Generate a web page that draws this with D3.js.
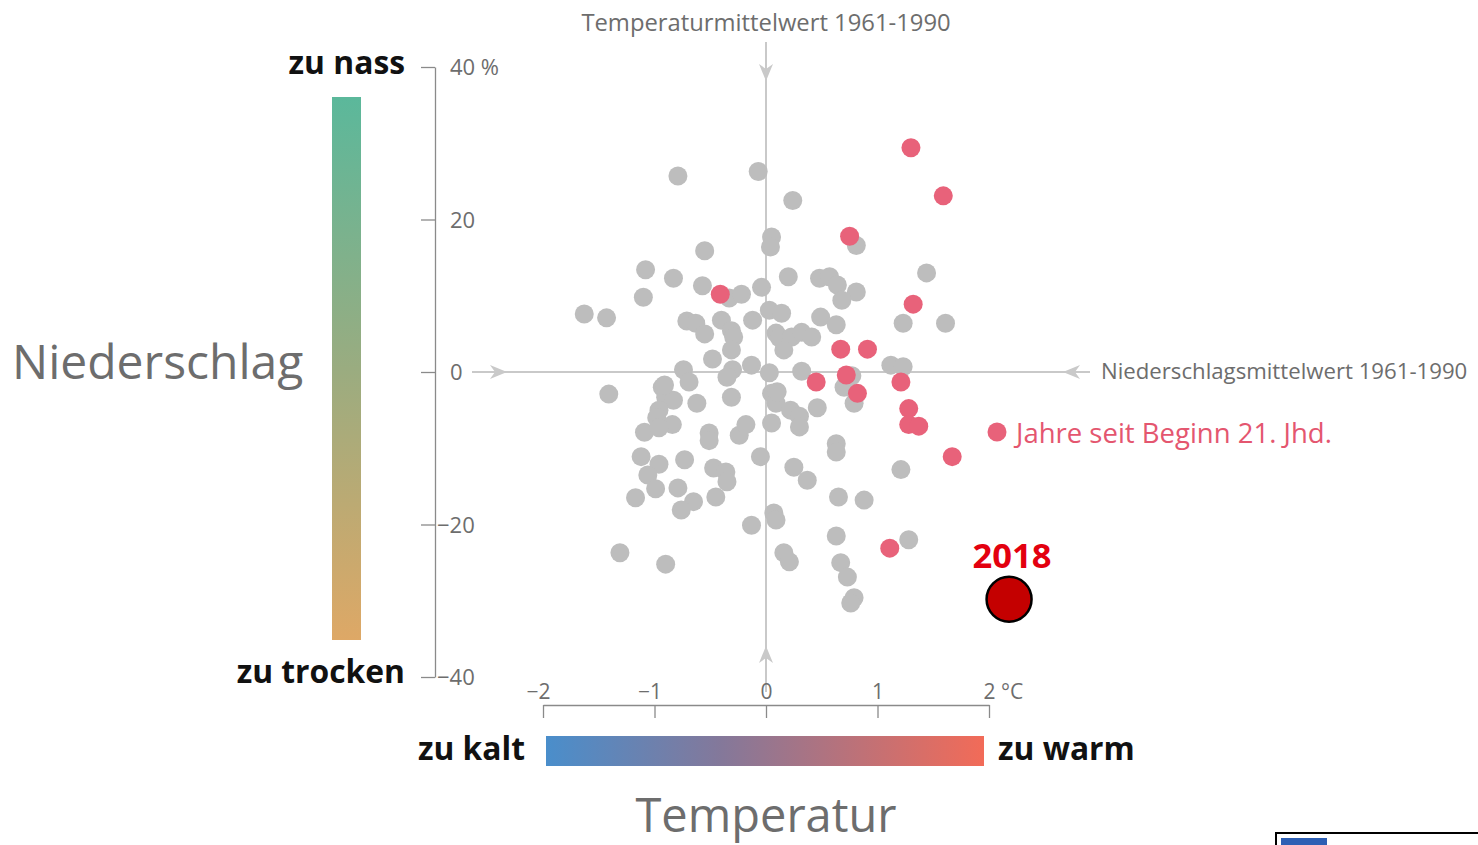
<!DOCTYPE html>
<meta charset='utf-8'>
<title>Niederschlag und Temperatur</title>
<style>
body {
  margin: 0;
  background-color: #fff;
}
svg text {
  font-family: "Open Sans", "Noto Sans", sans-serif;
}
</style>
<svg width="1478" height="845"></svg>
<script src="https://d3js.org/d3.v7.min.js"></script>
<script>

// Abweichungen vom Mittel 1961-1990: [Temperatur °C, Niederschlag %]
var grayYears = [
  [-0.79, 25.7], [-0.07, 26.3], [0.24, 22.5], [-0.55, 15.9], [0.05, 17.7], [0.04, 16.4],
  [0.81, 16.6], [-1.08, 13.4], [-0.83, 12.3], [-0.57, 11.3], [-1.10, 9.8], [-0.33, 9.7],
  [-0.22, 10.2], [-0.04, 11.1], [0.20, 12.5], [0.48, 12.3], [0.57, 12.5], [0.64, 11.4],
  [0.81, 10.5], [0.68, 9.4], [1.44, 13.0], [1.23, 6.4], [1.61, 6.4], [-1.63, 7.6],
  [-1.43, 7.1], [-0.71, 6.7], [-0.63, 6.4], [-0.55, 5.0], [-0.40, 6.8], [-0.31, 5.4],
  [-0.29, 4.6], [-0.12, 6.8], [0.03, 8.1], [0.14, 7.7], [0.09, 5.1], [0.12, 4.5],
  [0.23, 4.6], [0.32, 5.2], [0.41, 4.6], [0.49, 7.2], [0.63, 6.2], [0.16, 2.9],
  [-0.31, 2.9], [-0.48, 1.7], [-0.13, 0.9], [-0.74, 0.3], [-0.30, 0.3], [0.03, -0.1],
  [0.32, 0.1], [1.12, 0.9], [1.23, 0.7], [0.77, -0.5], [-0.69, -1.3], [-1.41, -2.9],
  [-0.93, -2.0], [-0.90, -3.3], [-0.83, -3.7], [-0.96, -5.0], [-0.98, -6.0], [-0.84, -6.9],
  [-1.09, -7.9], [-0.96, -7.3], [-0.62, -4.1], [-0.31, -3.3], [-0.35, -0.7], [-0.51, -8.0],
  [-0.51, -9.0], [-0.24, -8.3], [-0.18, -6.9], [-0.05, -11.1], [-1.12, -11.1], [-0.96, -12.1],
  [-1.06, -13.5], [-0.99, -15.3], [-1.17, -16.5], [-0.73, -11.5], [-0.79, -15.2], [-0.65, -17.0],
  [-0.76, -18.1], [-0.45, -16.4], [-0.47, -12.6], [-0.36, -13.1], [-0.35, -14.4], [-0.13, -20.1],
  [-1.31, -23.7], [-0.90, -25.2], [0.07, -18.5], [0.09, -19.4], [0.05, -2.8], [0.09, -4.1],
  [0.05, -6.7], [0.22, -5.0], [0.30, -5.8], [0.30, -7.2], [0.46, -4.7], [0.63, -9.4],
  [0.63, -10.5], [0.25, -12.5], [0.37, -14.2], [0.65, -16.4], [0.88, -16.8], [0.63, -21.5],
  [0.16, -23.7], [0.21, -24.9], [0.67, -25.0], [0.73, -26.9], [0.79, -29.6], [0.76, -30.3],
  [1.28, -22.0], [1.21, -12.8], [0.70, -2.0], [0.79, -4.1], [-0.91, -1.7], [0.10, -2.6]
];

// Jahre seit Beginn 21. Jhd.
var recentYears = [
  [1.30, 29.4], [1.59, 23.1], [0.75, 17.8], [1.32, 8.9], [-0.41, 10.2], [0.67, 3.0],
  [0.91, 3.0], [0.45, -1.3], [0.72, -0.4], [0.82, -2.8], [1.21, -1.3], [1.28, -4.8],
  [1.28, -6.9], [1.37, -7.1], [1.67, -11.1], [1.11, -23.1]
];

var year2018 = [2.18, -29.8];

var xTicks = [-2, -1, 0, 1, 2];
var yTicks = [40, 20, 0, -20, -40];

var svg = d3.select("svg");

var x = d3.scaleLinear().domain([-2, 2]).range([543, 989]);
var y = d3.scaleLinear().domain([-40, 40]).range([677, 67]);

var lightText = "#6d6d6d";
var refColor = "#c9c9c9";

// gradients
var defs = svg.append("defs");
var vGrad = defs.append("linearGradient").attr("id", "vgrad")
    .attr("x1", 0).attr("y1", 0).attr("x2", 0).attr("y2", 1);
vGrad.append("stop").attr("offset", 0).attr("stop-color", "#5bb89b");
vGrad.append("stop").attr("offset", 0.5).attr("stop-color", "#9aac80");
vGrad.append("stop").attr("offset", 1).attr("stop-color", "#dea866");

var hGrad = defs.append("linearGradient").attr("id", "hgrad");
hGrad.append("stop").attr("offset", 0).attr("stop-color", "#4a8ecb");
hGrad.append("stop").attr("offset", 0.4).attr("stop-color", "#84789a");
hGrad.append("stop").attr("offset", 1).attr("stop-color", "#f26b58");

// reference lines (means 1961-1990)
svg.append("line")
    .attr("x1", x(0)).attr("x2", x(0))
    .attr("y1", 42).attr("y2", 692)
    .attr("stroke", refColor).attr("stroke-width", 2);
svg.append("line")
    .attr("x1", 472).attr("x2", 1090)
    .attr("y1", y(0)).attr("y2", y(0))
    .attr("stroke", refColor).attr("stroke-width", 2);

function arrow(cx, cy, dir) {
  // dir: "down", "up", "right", "left"; tip at (cx, cy)
  var p;
  if (dir === "down") p = [[cx - 7, cy - 17], [cx, cy - 12], [cx + 7, cy - 17], [cx, cy]];
  if (dir === "up") p = [[cx - 7, cy + 17], [cx, cy + 12], [cx + 7, cy + 17], [cx, cy]];
  if (dir === "right") p = [[cx - 17, cy - 7], [cx - 12, cy], [cx - 17, cy + 7], [cx, cy]];
  if (dir === "left") p = [[cx + 17, cy - 7], [cx + 12, cy], [cx + 17, cy + 7], [cx, cy]];
  svg.append("path")
      .attr("d", "M" + p[3] + "L" + p[0] + "L" + p[1] + "L" + p[2] + "Z")
      .attr("fill", refColor);
}
arrow(x(0), 81, "down");
arrow(x(0), 646, "up");
arrow(507, y(0), "right");
arrow(1063, y(0), "left");

svg.append("text")
    .attr("x", x(0)).attr("y", 31)
    .attr("text-anchor", "middle")
    .attr("font-size", 23.8)
    .attr("fill", lightText)
    .text("Temperaturmittelwert 1961-1990");

svg.append("text")
    .attr("x", 1101).attr("y", 379)
    .attr("font-size", 22.2)
    .attr("fill", lightText)
    .text("Niederschlagsmittelwert 1961-1990");

// y axis
var yAxis = svg.append("g")
    .attr("transform", "translate(435,0)")
    .call(d3.axisLeft(y).tickValues(yTicks).tickSize(14).tickSizeOuter(0)
      .tickFormat(function(d) { return d === 40 ? "40 %" : (d < 0 ? "\u2212" + (-d) : d); }));
yAxis.select(".domain").attr("stroke", "#8a8a8a").attr("stroke-width", 1.3);
yAxis.selectAll(".tick line").attr("stroke", "#8a8a8a").attr("stroke-width", 1.3);
yAxis.selectAll(".tick text")
    .attr("x", function(d) { return d < 0 ? 2 : 15; })
    .attr("dy", "0.35em")
    .attr("text-anchor", "start")
    .attr("font-size", 22)
    .attr("font-family", "'Open Sans', sans-serif")
    .attr("fill", lightText);

// x axis
var xAxis = svg.append("g")
    .attr("transform", "translate(0,705)")
    .call(d3.axisBottom(x).tickValues(xTicks).tickSize(13).tickSizeOuter(0)
      .tickFormat(function(d) { return d === 2 ? "2 \u00b0C" : (d < 0 ? "\u2212" + (-d) : d); }));
xAxis.select(".domain").attr("stroke", "#8a8a8a").attr("stroke-width", 1.3);
xAxis.selectAll(".tick line").attr("stroke", "#8a8a8a").attr("stroke-width", 1.3);
xAxis.selectAll(".tick text")
    .attr("y", -6)
    .attr("dy", 0)
    .attr("font-size", 21)
    .attr("font-family", "'Open Sans', sans-serif")
    .attr("fill", lightText)
    .attr("text-anchor", function(d) { return d === 2 ? "start" : "middle"; })
    .attr("x", function(d) { return d === 2 ? -6 : (d < 0 ? -5 : 0); });

// colour bars
svg.append("rect")
    .attr("x", 332).attr("y", 97).attr("width", 29).attr("height", 543)
    .attr("fill", "url(#vgrad)");
svg.append("rect")
    .attr("x", 546).attr("y", 736).attr("width", 438).attr("height", 30)
    .attr("fill", "url(#hgrad)");

function boldLabel(tx, ty, anchor, s) {
  svg.append("text")
      .attr("x", tx).attr("y", ty)
      .attr("text-anchor", anchor)
      .attr("font-size", 31.8)
      .attr("font-weight", "bold")
      .attr("fill", "#111")
      .text(s);
}
boldLabel(405, 74, "end", "zu nass");
boldLabel(405, 683, "end", "zu trocken");
boldLabel(525, 760, "end", "zu kalt");
boldLabel(998, 760, "start", "zu warm");

svg.append("text")
    .attr("x", 12).attr("y", 379)
    .attr("font-size", 48)
    .attr("fill", lightText)
    .text("Niederschlag");

svg.append("text")
    .attr("x", x(0)).attr("y", 832)
    .attr("text-anchor", "middle")
    .attr("font-size", 47)
    .attr("fill", lightText)
    .text("Temperatur");

// dots
svg.append("g").selectAll("circle")
    .data(grayYears)
  .enter().append("circle")
    .attr("cx", function(d) { return x(d[0]); })
    .attr("cy", function(d) { return y(d[1]); })
    .attr("r", 9.5)
    .attr("fill", "#bdbdbd");

svg.append("g").selectAll("circle")
    .data(recentYears)
  .enter().append("circle")
    .attr("cx", function(d) { return x(d[0]); })
    .attr("cy", function(d) { return y(d[1]); })
    .attr("r", 9.5)
    .attr("fill", "#e8627a");

// legend for 21st century
svg.append("circle")
    .attr("cx", 997).attr("cy", 432).attr("r", 9.5)
    .attr("fill", "#e8627a");
svg.append("text")
    .attr("x", 1016).attr("y", 443)
    .attr("font-size", 27.5)
    .attr("fill", "#e4566f")
    .text("Jahre seit Beginn 21. Jhd.");

// 2018
svg.append("circle")
    .attr("cx", x(year2018[0])).attr("cy", y(year2018[1]))
    .attr("r", 22.5)
    .attr("fill", "#c40000")
    .attr("stroke", "#000")
    .attr("stroke-width", 2.5);
svg.append("text")
    .attr("x", x(year2018[0]) + 3).attr("y", 568)
    .attr("text-anchor", "middle")
    .attr("font-size", 34.5)
    .attr("font-weight", "bold")
    .attr("fill", "#e3000f")
    .text("2018");

// source logo box (cut off at the edge)
svg.append("rect")
    .attr("x", 1276).attr("y", 833).attr("width", 210).attr("height", 20)
    .attr("fill", "#fff").attr("stroke", "#000").attr("stroke-width", 2);
svg.append("rect")
    .attr("x", 1281).attr("y", 838).attr("width", 46).attr("height", 10)
    .attr("fill", "#2d5fb4");

</script>
